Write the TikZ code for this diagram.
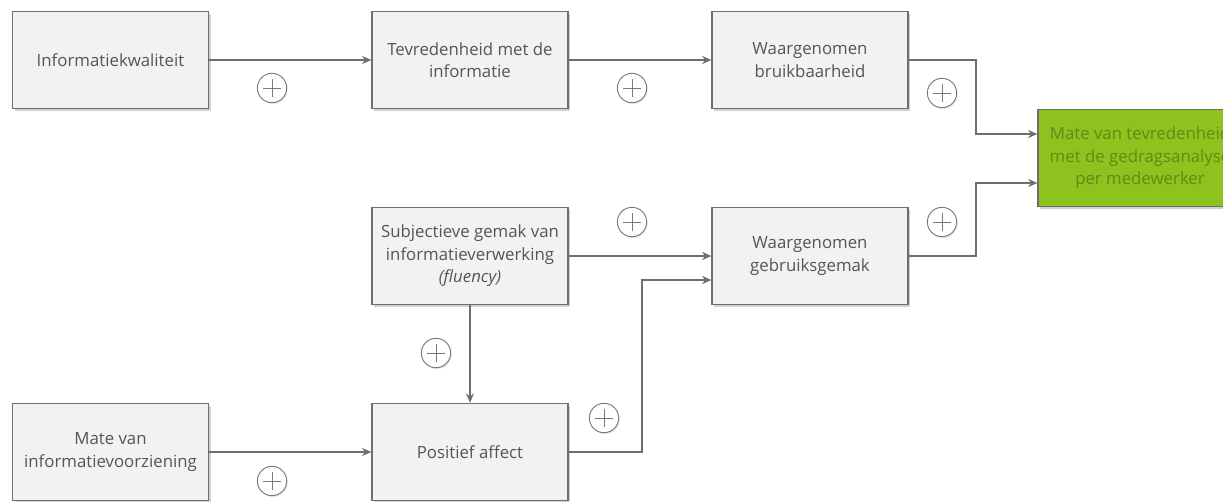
\documentclass[tikz,border=0pt]{standalone}
\usepackage{fontspec}
\setmainfont{Open Sans}
\usetikzlibrary{arrows.meta,shadows,calc}
\definecolor{boxfill}{HTML}{F2F2F2}
\definecolor{boxdraw}{HTML}{6E6E6E}
\definecolor{txt}{HTML}{555555}
\definecolor{lime}{HTML}{8DC21F}
\definecolor{limetxt}{HTML}{5F8C12}
\definecolor{linec}{HTML}{6E6E6E}
\definecolor{plusc}{HTML}{7A7A7A}
\begin{document}
\begin{tikzpicture}[x=0.75pt,y=-0.75pt,
  box/.style={draw=boxdraw, fill=boxfill, line width=0.9pt,
    minimum width=147pt, minimum height=73pt, inner sep=2pt,
    align=center, text=txt, font=\fontsize{12.6}{16.9}\selectfont,
    drop shadow={shadow xshift=1.5pt, shadow yshift=-2pt, opacity=0.3, fill=black!60}},
  goal/.style={box, fill=lime, draw=boxdraw, text=limetxt, minimum width=153pt},
  conn/.style={draw=linec, line width=1pt, -{Stealth[length=7pt,width=6pt]}},
  pl/.style={circle, draw=plusc, fill=white, line width=0.7pt, minimum size=22pt, inner sep=0pt,
    drop shadow={shadow xshift=0.8pt, shadow yshift=-1pt, opacity=0.2, fill=black!50},
    path picture={\draw[plusc, line width=0.7pt]
      (path picture bounding box.center) +(-7pt,0) -- +(7pt,0)
      (path picture bounding box.center) +(0,-7pt) -- +(0,7pt);}}
]
\useasboundingbox (0,0) rectangle (1223,501);
\begin{scope}
\clip (0,0) rectangle (1223,501);
\node[box] (iq) at (110.5,60) {Informatiekwaliteit};
\node[box] (tev) at (470,60) {Tevredenheid met de\\informatie};
\node[box] (wb) at (810,60) {Waargenomen\\bruikbaarheid};
\node[goal] (goal) at (1140,158) {Mate van tevredenheid\\met de gedragsanalyse\\per medewerker};
\node[box] (subj) at (470,256) {Subjectieve gemak van\\informatieverwerking\\\textit{(fluency)}};
\node[box] (wg) at (810,256) {Waargenomen\\gebruiksgemak};
\node[box] (miv) at (110.5,452) {Mate van\\informatievoorziening};
\node[box] (pa) at (470,452) {Positief affect};

\coordinate (c1) at (976,60);
\coordinate (c2) at (976,134);
\coordinate (c3) at (976,256);
\coordinate (c4) at (976,183);
\coordinate (c5) at (642,452);
\coordinate (c6) at (642,280);

\draw[conn] (iq.east) -- (tev.west);
\draw[conn] (tev.east) -- (wb.west);
\draw[conn] (wb.east) -- (c1) -- (c2) -- (c2 -| goal.west);
\draw[conn] (wg.east) -- (c3) -- (c4) -- (c4 -| goal.west);
\draw[conn] (subj.east) -- (subj.east -| wg.west);
\draw[conn] (subj.south) -- (pa.north);
\draw[conn] (miv.east) -- (pa.west);
\draw[conn] (pa.east) -- (c5) -- (c6) -- (c6 -| wg.west);

\node[pl] (p1) at (272,88) {};
\node[pl] (p2) at (632,88) {};
\node[pl] (p3) at (942,93) {};
\node[pl] (p4) at (632,222) {};
\node[pl] (p5) at (942,222) {};
\node[pl] (p6) at (436,353) {};
\node[pl] (p7) at (604,418) {};
\node[pl] (p8) at (272,481) {};
\end{scope}
\end{tikzpicture}
\end{document}
